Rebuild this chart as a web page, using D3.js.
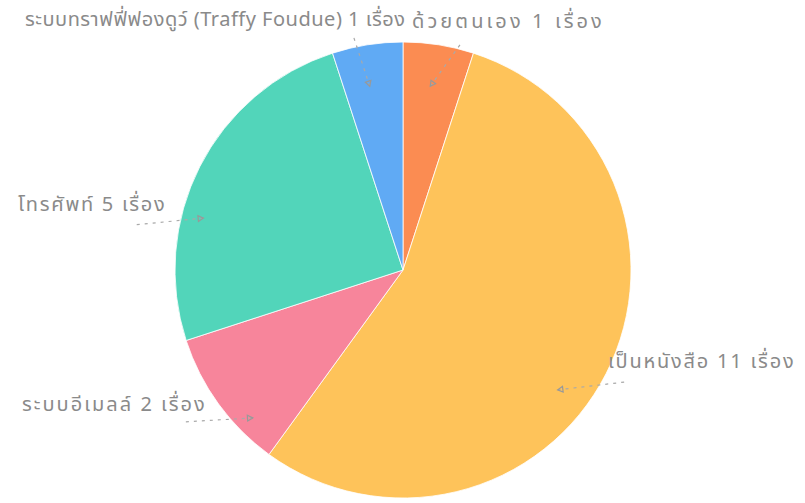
<!DOCTYPE html>
<html>
<head>
<meta charset="utf-8">
<script src="https://cdn.jsdelivr.net/npm/d3@7"></script>
<style>
  body { margin: 0; background: #fff; }
  svg { display: block; }
</style>
</head>
<body>
<div class="chart"></div>
<script>
// data
const categories = [
  "ด้วยตนเอง",
  "เป็นหนังสือ",
  "ระบบอีเมลล์",
  "โทรศัพท์",
  "ระบบทราฟฟี่ฟองดูว์ (Traffy Foudue)"
];
const counts = [1, 11, 2, 5, 1];
const unit = "เรื่อง";
const colors = ["#fb8c52", "#fec35a", "#f7859b", "#52d5ba", "#60aaf4"];

// label placement (annotation layout, not data)
const labelLayout = [
  { tx: 412, ty: 22, lx: 462, ly: 42, dx: -2, dy: 1, ls: 3.1 },
  { tx: 608, ty: 362, lx: 625, ly: 382, dx: -12, dy: 35, ls: 1.8 },
  { tx: 22, ty: 405, lx: 183, ly: 422, dx: 1, dy: 38, ls: 2.0 },
  { tx: 18, ty: 205, lx: 133, ly: 225, dx: -33, dy: 33, ls: 1.7 },
  { tx: 25, ty: 20, lx: 353, ly: 35, dx: -4, dy: 1, ls: 0.5 }
];

const W = 805, H = 503;
const cx = 403, cy = 270, R = 228;

const data = categories.map((c, i) => ({ name: c, value: counts[i], idx: i }));

const svg = d3.select(".chart").append("svg")
  .attr("width", W)
  .attr("height", H);

const pie = d3.pie().sort(null).value(d => d.value);
const arc = d3.arc().innerRadius(0).outerRadius(R);
const anchorArc = d3.arc().innerRadius(R * 0.82).outerRadius(R * 0.82);

const arcs = pie(data);

const g = svg.append("g").attr("transform", `translate(${cx},${cy})`);

g.selectAll("path.slice")
  .data(arcs)
  .join("path")
  .attr("class", "slice")
  .attr("d", arc)
  .attr("fill", d => colors[d.data.idx])
  .attr("stroke", "#fff")
  .attr("stroke-width", 0.8);

// leader lines + arrow marks
arcs.forEach(d => {
  const L = labelLayout[d.data.idx];
  const c = anchorArc.centroid(d);
  const ax = cx + c[0] + L.dx, ay = cy + c[1] + L.dy;
  svg.append("line")
    .attr("x1", ax).attr("y1", ay)
    .attr("x2", L.lx).attr("y2", L.ly)
    .attr("stroke", "#a9a9a9")
    .attr("stroke-width", 1.2)
    .attr("stroke-dasharray", "3,5");
  // small arrow head pointing into the slice
  const ang = Math.atan2(ay - L.ly, ax - L.lx);
  const s = 6;
  const p1 = [ax, ay];
  const p2 = [ax - s * Math.cos(ang - 0.5), ay - s * Math.sin(ang - 0.5)];
  const p3 = [ax - s * Math.cos(ang + 0.5), ay - s * Math.sin(ang + 0.5)];
  svg.append("polygon")
    .attr("points", [p1, p2, p3].map(p => p.join(",")).join(" "))
    .attr("fill", "none")
    .attr("stroke", "#999")
    .attr("stroke-width", 1.2);
});

// labels
svg.selectAll("text.lbl")
  .data(arcs)
  .join("text")
  .attr("class", "lbl")
  .attr("x", d => labelLayout[d.data.idx].tx)
  .attr("y", d => labelLayout[d.data.idx].ty)
  .attr("dominant-baseline", "middle")
  .style("font-family", "'Noto Sans Thai', Tahoma, Loma, Garuda, sans-serif")
  .style("font-size", "20px")
  .style("letter-spacing", d => labelLayout[d.data.idx].ls + "px")
  .attr("fill", "#8a8a8a")
  .text(d => `${d.data.name} ${d.data.value} ${unit}`);
</script>
</body>
</html>
